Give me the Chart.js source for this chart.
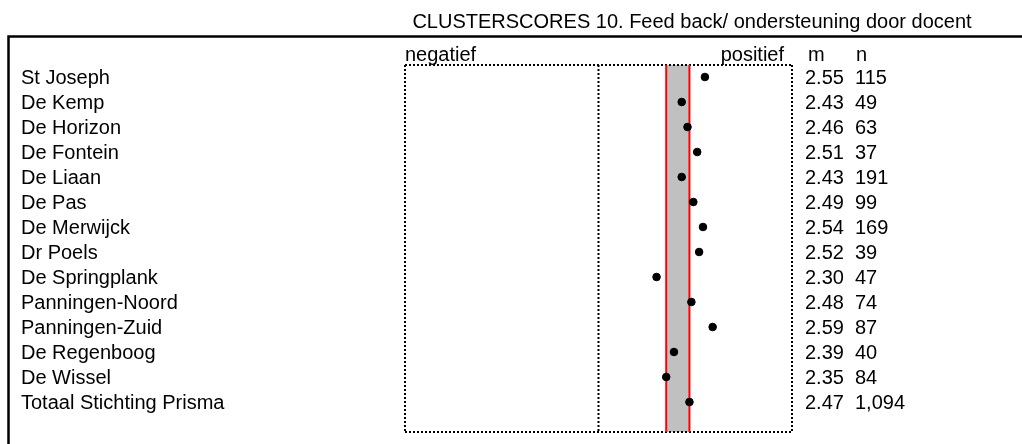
<!DOCTYPE html>
<html>
<head>
<meta charset="utf-8">
<script src="https://cdn.jsdelivr.net/npm/chart.js@4.4.1/dist/chart.umd.min.js"></script>
<style>
  html, body { margin: 0; padding: 0; background: #fff; }
  #wrap { width: 1022px; height: 444px; position: relative; }
</style>
</head>
<body>
<div id="wrap"><canvas id="clusterChart" width="1022" height="444"></canvas></div>
<script>
"use strict";

var schools = ['St Joseph', 'De Kemp', 'De Horizon', 'De Fontein', 'De Liaan', 'De Pas',
  'De Merwijck', 'Dr Poels', 'De Springplank', 'Panningen-Noord', 'Panningen-Zuid',
  'De Regenboog', 'De Wissel', 'Totaal Stichting Prisma'];
var meanScores = [2.55, 2.43, 2.46, 2.51, 2.43, 2.49, 2.54, 2.52, 2.30, 2.48, 2.59, 2.39, 2.35, 2.47];
var counts = ['115', '49', '63', '37', '191', '99', '169', '39', '47', '74', '87', '40', '84', '1,094'];
var bandRange = [2.35, 2.47];
var scaleRange = [1, 3];

var FONT = '20px "Liberation Sans", Arial, sans-serif';

function $each(arr, fn) {
  for (var i = 0; i < arr.length; i++) { fn(i, arr[i]); }
}

// points from the arrays, y = row index
var points = [];
$each(meanScores, function(i, v) {
  points.push({ x: v, y: i });
});

function line(ctx, x1, y1, x2, y2) {
  ctx.beginPath();
  ctx.moveTo(x1, y1);
  ctx.lineTo(x2, y2);
  ctx.stroke();
}

// band + dotted frame behind the dots
var backdropPlugin = {
  id: 'backdrop',
  beforeDatasetsDraw: function(chart) {
    var ctx = chart.ctx;
    var xs = chart.scales.x;
    var area = chart.chartArea;
    var bx1 = xs.getPixelForValue(bandRange[0]);
    var bx2 = xs.getPixelForValue(bandRange[1]);

    ctx.save();
    ctx.fillStyle = '#c0c0c0';
    ctx.fillRect(bx1, area.top, bx2 - bx1, area.bottom - area.top);

    // dotted box and the middle line
    ctx.strokeStyle = '#000';
    ctx.lineWidth = 2;
    ctx.setLineDash([2, 2]);
    var mid = xs.getPixelForValue((scaleRange[0] + scaleRange[1]) / 2);
    line(ctx, area.left, area.top, area.right, area.top);
    line(ctx, area.left, area.bottom, area.right, area.bottom);
    line(ctx, area.left, area.top, area.left, area.bottom);
    line(ctx, area.right, area.top, area.right, area.bottom);
    line(ctx, mid, area.top, mid, area.bottom);
    ctx.setLineDash([]);

    ctx.strokeStyle = '#ff0000';
    ctx.lineWidth = 2;
    line(ctx, bx1, area.top, bx1, area.bottom);
    line(ctx, bx2, area.top, bx2, area.bottom);
    ctx.restore();
  }
};

// texts: title, headers, row labels, m and n columns
var textPlugin = {
  id: 'texts',
  afterDraw: function(chart) {
    var ctx = chart.ctx;
    var ys = chart.scales.y;
    var area = chart.chartArea;

    ctx.save();
    ctx.fillStyle = '#000';
    ctx.font = FONT;
    ctx.textBaseline = 'alphabetic';
    ctx.textAlign = 'center';
    ctx.fillText('CLUSTERSCORES 10. Feed back/ ondersteuning door docent', 692, 28);

    ctx.textAlign = 'left';
    ctx.fillText('negatief', area.left, 61);
    ctx.textAlign = 'right';
    ctx.fillText('positief', 784, 61);
    ctx.textAlign = 'left';
    ctx.fillText('m', 808, 61);
    ctx.fillText('n', 856, 61);

    ctx.textBaseline = 'middle';
    $each(schools, function(i, name) {
      var y = ys.getPixelForValue(i) + 1;
      ctx.fillText(name, 21, y);
      ctx.fillText(meanScores[i].toFixed(2), 805, y);
      ctx.fillText(counts[i], 855, y);
    });

    // outer frame (left + top rule)
    ctx.strokeStyle = '#000';
    ctx.lineWidth = 2.5;
    ctx.beginPath();
    ctx.moveTo(8.5, 444);
    ctx.lineTo(8.5, 36.5);
    ctx.lineTo(1022, 36.5);
    ctx.stroke();
    ctx.restore();
  }
};

var ctx = document.getElementById('clusterChart').getContext('2d');
window.clusterChart = new Chart(ctx, {
  type: 'scatter',
  data: {
    datasets: [{
      label: 'm',
      data: points,
      backgroundColor: '#000',
      borderColor: '#000',
      pointRadius: 3.8,
      pointHoverRadius: 3.8
    }]
  },
  options: {
    responsive: false,
    animation: false,
    events: [],
    layout: {
      padding: { left: 405, right: 230, top: 65, bottom: 12 }
    },
    plugins: {
      legend: { display: false },
      tooltip: { enabled: false },
      title: { display: false }
    },
    scales: {
      x: { type: 'linear', min: scaleRange[0], max: scaleRange[1], display: false },
      y: { type: 'linear', min: -0.48, max: 14.2, reverse: true, display: false }
    }
  },
  plugins: [backdropPlugin, textPlugin]
});
</script>
</body>
</html>
